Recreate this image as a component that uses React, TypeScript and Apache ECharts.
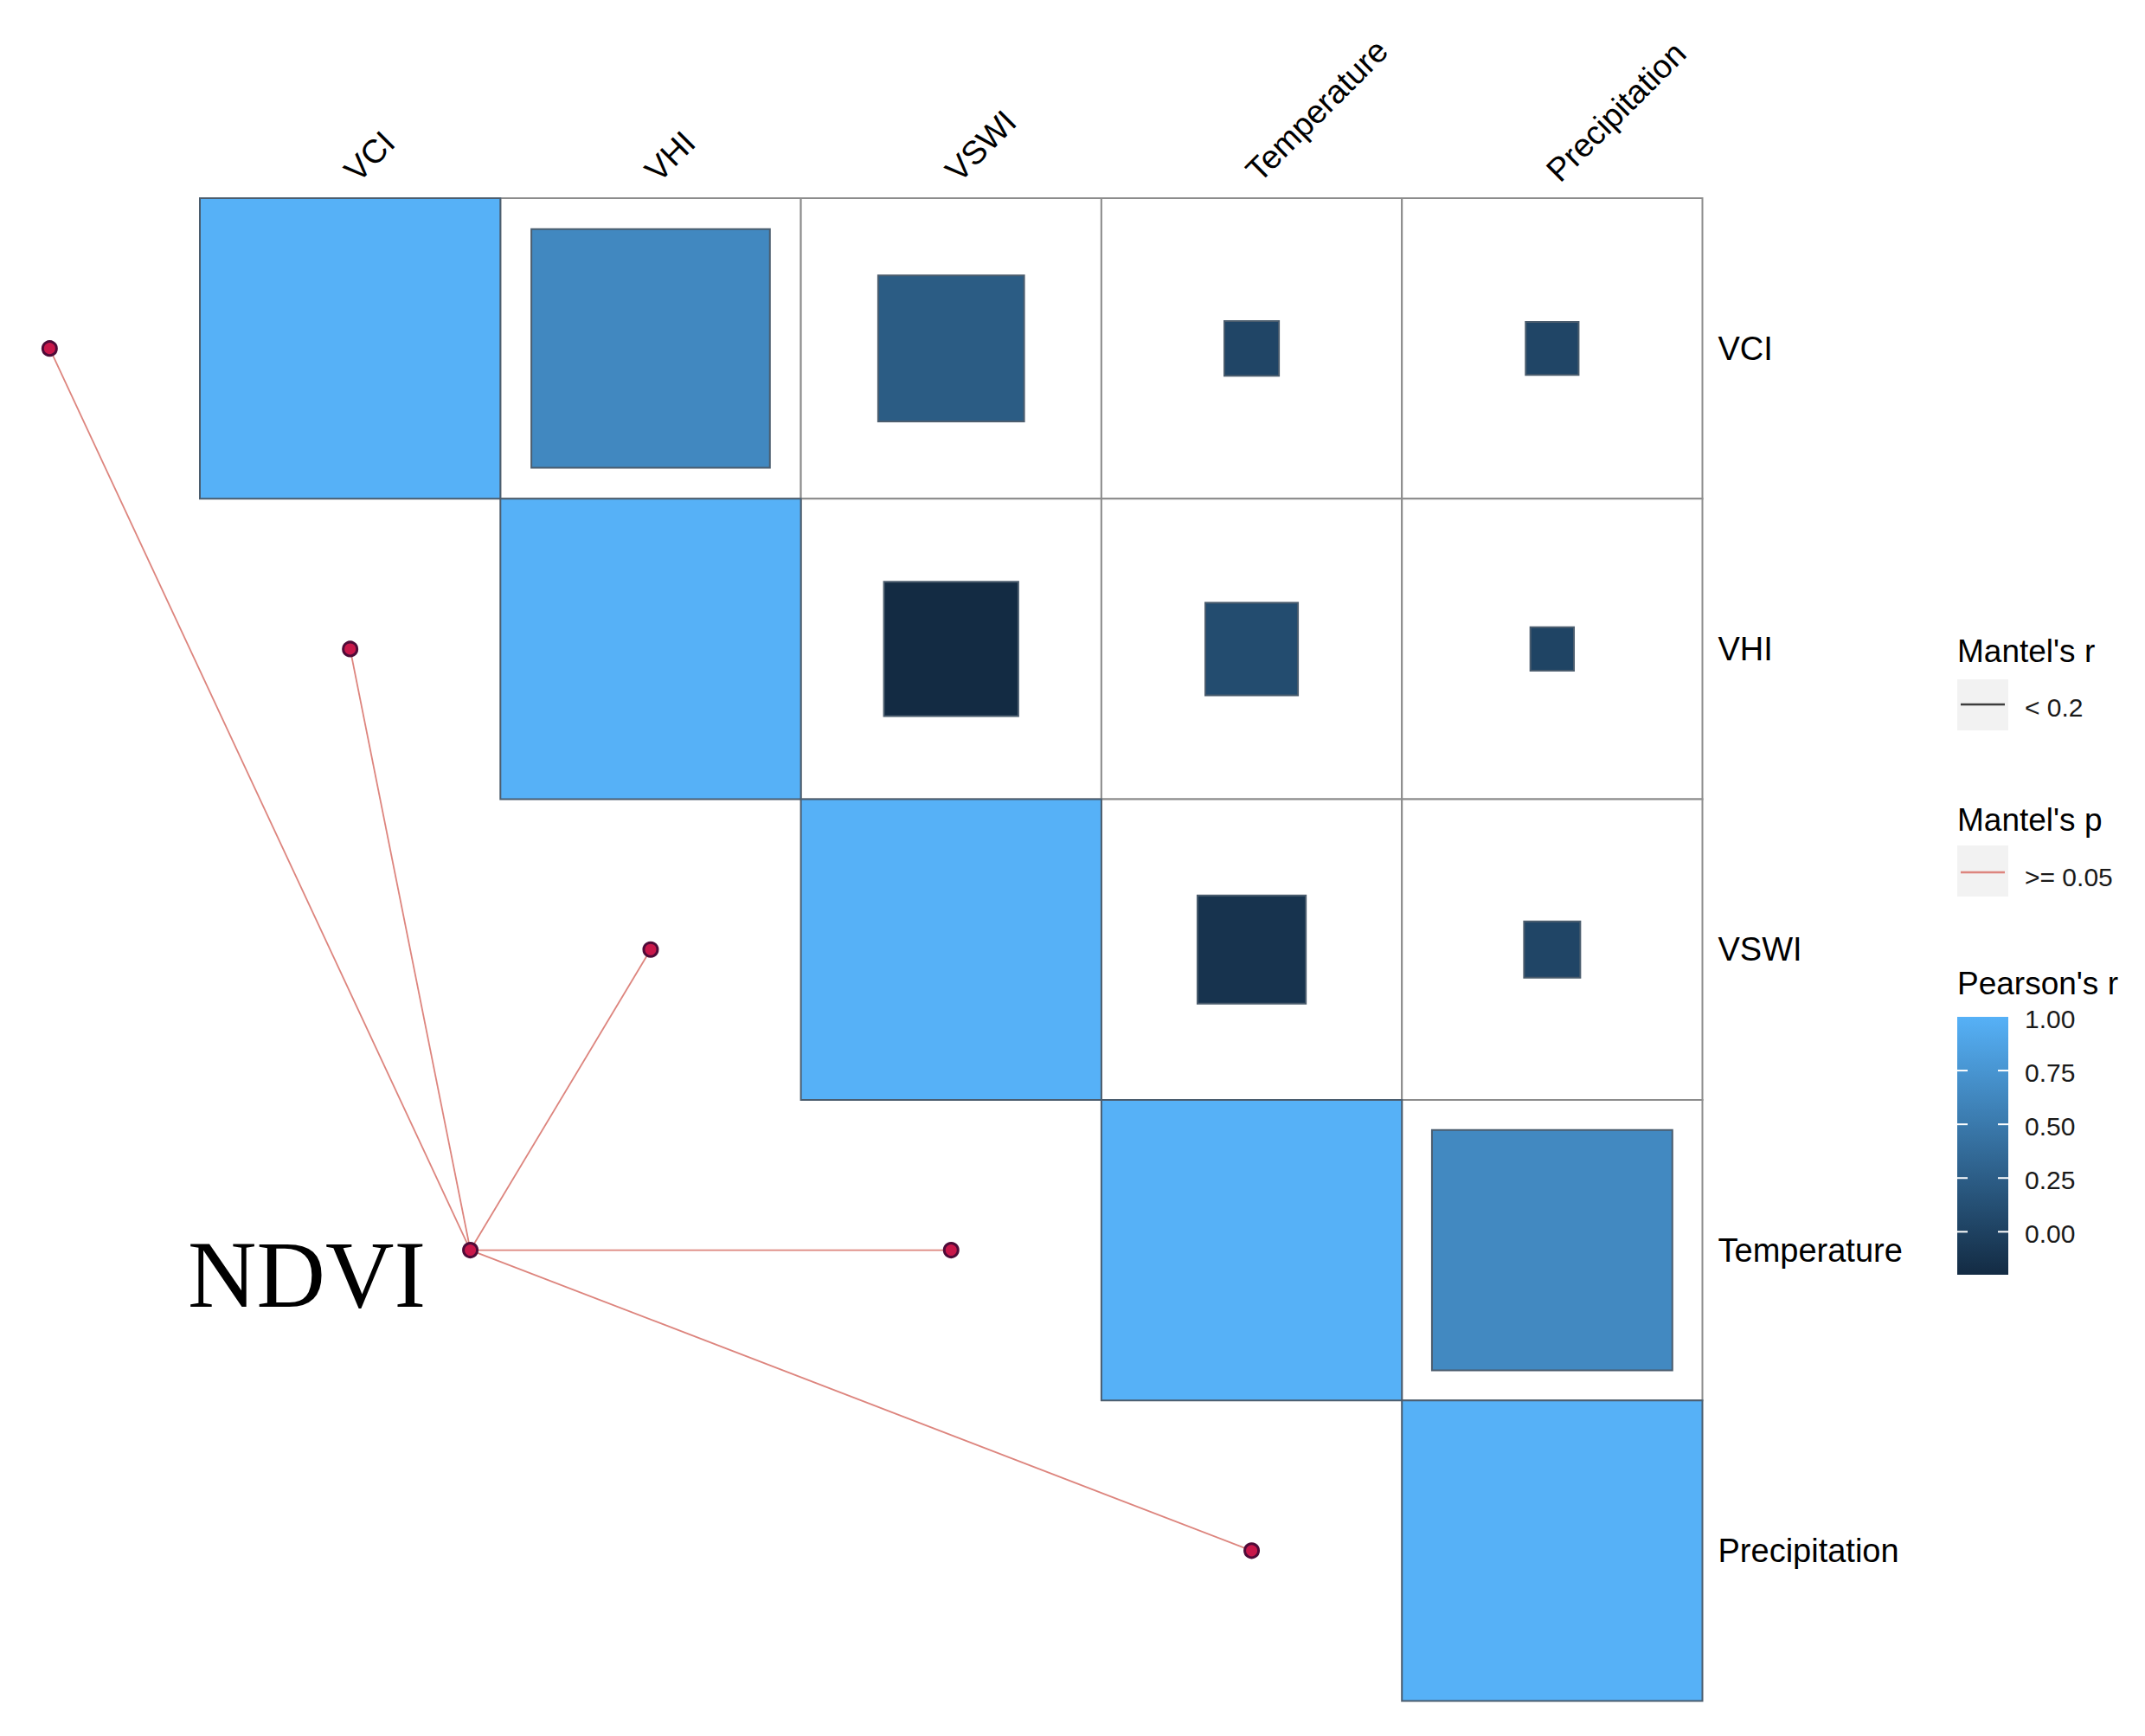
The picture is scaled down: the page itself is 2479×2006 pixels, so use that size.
import React, { useEffect, useRef } from "react";
import * as echarts from "echarts";

// ---- data ----
const vars = ["VCI", "VHI", "VSWI", "Temperature", "Precipitation"];
// Pearson's r, upper triangle (row variable vs column variable)
const rVCI = [1.0, 0.63, 0.236, 0.033, 0.031];
const rVHI = [null, 1.0, -0.2, 0.095, 0.021];
const rVSWI = [null, null, 1.0, -0.13, 0.035];
const rTemperature = [null, null, null, 1.0, 0.64];
const rPrecipitation = [null, null, null, null, 1.0];
const pearsonRows = [rVCI, rVHI, rVSWI, rTemperature, rPrecipitation];

// Mantel test links: NDVI -> each variable
const mantelSource = "NDVI";
const mantelTargets = ["VCI", "VHI", "VSWI", "Temperature", "Precipitation"];
const mantelRClass = ["< 0.2", "< 0.2", "< 0.2", "< 0.2", "< 0.2"];
const mantelPClass = [">= 0.05", ">= 0.05", ">= 0.05", ">= 0.05", ">= 0.05"];
const sourceNode = [0.9, 3.5]; // position of NDVI node in cell units

// colour scale
const colorMin = -0.2;
const colorMax = 1.0;
const colorTicks = [0.0, 0.25, 0.5, 0.75, 1.0];
const lowColor = "#132B43";
const highColor = "#56B1F7";

const pLineColor: Record<string, string> = { ">= 0.05": "#DD857E" };

export default function App() {
  const ref = useRef<HTMLDivElement>(null);
  useEffect(() => {
    if (!ref.current) return;
    const chart = echarts.init(ref.current, null, { renderer: "svg" });

    const cells: number[][] = [];
    pearsonRows.forEach((row, i) => {
      row.forEach((v, j) => {
        if (v !== null && v !== undefined) cells.push([j, i, v as number]);
      });
    });
    const offCells = cells.filter((c) => c[0] !== c[1]);

    const endPoints = mantelTargets.map((t) => {
      const i = vars.indexOf(t);
      return [i - 0.5, i + 0.5];
    });
    const lineData = endPoints.map((e, k) => ({
      value: [sourceNode[0], sourceNode[1], e[0], e[1]],
      p: mantelPClass[k],
    }));

    const labelFmt = (v: number) => {
      const k = Math.round(v * 2);
      if (k % 2 === 1) return vars[(k - 1) / 2] || "";
      return "";
    };

    const font = "Liberation Sans, Arial, sans-serif";

    // legend geometry
    const lgX = 2262;
    const lgW = 59;
    const cbTop = 1175;
    const cbBot = 1473;
    const cbY = (v: number) => cbTop + ((colorMax - v) / (colorMax - colorMin)) * (cbBot - cbTop);

    const graphic: any[] = [
      { type: "text", x: lgX, y: 752, style: { text: "Mantel's r", font: `37px ${font}`, fill: "#000", verticalAlign: "middle" } },
      { type: "rect", shape: { x: lgX, y: 785, width: lgW, height: 59 }, style: { fill: "#F2F2F2" } },
      { type: "line", shape: { x1: lgX + 4, y1: 814, x2: lgX + 55, y2: 814 }, style: { stroke: "#3D3D3D", lineWidth: 2.5 } },
      { type: "text", x: 2340, y: 817, style: { text: mantelRClass[0], font: `30px ${font}`, fill: "#1A1A1A", verticalAlign: "middle" } },
      { type: "text", x: lgX, y: 947, style: { text: "Mantel's p", font: `37px ${font}`, fill: "#000", verticalAlign: "middle" } },
      { type: "rect", shape: { x: lgX, y: 977, width: lgW, height: 59 }, style: { fill: "#F2F2F2" } },
      { type: "line", shape: { x1: lgX + 4, y1: 1008, x2: lgX + 55, y2: 1008 }, style: { stroke: pLineColor[mantelPClass[0]], lineWidth: 2.5 } },
      { type: "text", x: 2340, y: 1013, style: { text: mantelPClass[0], font: `30px ${font}`, fill: "#1A1A1A", verticalAlign: "middle" } },
      { type: "text", x: lgX, y: 1136, style: { text: "Pearson's r", font: `37px ${font}`, fill: "#000", verticalAlign: "middle" } },
      {
        type: "rect",
        shape: { x: lgX, y: cbTop, width: lgW, height: cbBot - cbTop },
        style: {
          fill: new echarts.graphic.LinearGradient(0, 0, 0, 1, [
            { offset: 0, color: highColor },
            { offset: 1, color: lowColor },
          ]),
        },
      },
    ];
    colorTicks.forEach((t) => {
      const y = cbY(t);
      if (t < colorMax) {
        graphic.push({ type: "line", shape: { x1: lgX, y1: y, x2: lgX + 12, y2: y }, style: { stroke: "#FFFFFF", lineWidth: 2 } });
        graphic.push({ type: "line", shape: { x1: lgX + lgW - 12, y1: y, x2: lgX + lgW, y2: y }, style: { stroke: "#FFFFFF", lineWidth: 2 } });
      }
      graphic.push({ type: "text", x: 2340, y: y + 2, style: { text: t.toFixed(2), font: `30px ${font}`, fill: "#1A1A1A", verticalAlign: "middle" } });
    });

    const option: any = {
      animation: false,
      backgroundColor: "#FFFFFF",
      grid: { left: 231, top: 229, width: 1736.5, height: 1736.5, containLabel: false },
      xAxis: {
        type: "value",
        position: "top",
        min: 0,
        max: 5,
        interval: 0.5,
        axisLine: { show: false },
        axisTick: { show: false },
        splitLine: { show: false },
        axisLabel: { formatter: labelFmt, rotate: 45, fontSize: 38, color: "#000", fontFamily: font, margin: 26 },
      },
      yAxis: {
        type: "value",
        position: "right",
        inverse: true,
        min: 0,
        max: 5,
        interval: 0.5,
        axisLine: { show: false },
        axisTick: { show: false },
        splitLine: { show: false },
        axisLabel: { formatter: labelFmt, fontSize: 38, color: "#000", fontFamily: font, margin: 18, padding: [10, 0, 0, 0] },
      },
      visualMap: {
        type: "continuous",
        show: false,
        min: colorMin,
        max: colorMax,
        dimension: 2,
        seriesIndex: 1,
        inRange: { color: [lowColor, highColor] },
      },
      graphic,
      series: [
        {
          type: "custom",
          name: "grid",
          z: 1,
          data: offCells,
          renderItem: (params: any, api: any) => {
            const c = api.coord([api.value(0) + 0.5, api.value(1) + 0.5]);
            const s = api.size([1, 1]);
            const w = Math.abs(s[0]);
            const h = Math.abs(s[1]);
            return {
              type: "rect",
              shape: { x: c[0] - w / 2, y: c[1] - h / 2, width: w, height: h },
              style: { fill: "#FFFFFF", stroke: "#8C8C8C", lineWidth: 2 },
            };
          },
        },
        {
          type: "custom",
          name: "Pearson's r",
          z: 2,
          data: cells,
          renderItem: (params: any, api: any) => {
            const c = api.coord([api.value(0) + 0.5, api.value(1) + 0.5]);
            const s = api.size([1, 1]);
            const f = Math.sqrt(Math.abs(api.value(2)));
            const w = Math.abs(s[0]) * f;
            const h = Math.abs(s[1]) * f;
            return {
              type: "rect",
              shape: { x: c[0] - w / 2, y: c[1] - h / 2, width: w, height: h },
              style: { fill: api.visual("color"), stroke: "#4B5D6E", lineWidth: 2 },
            };
          },
        },
        {
          type: "custom",
          name: "Mantel links",
          z: 3,
          data: lineData,
          renderItem: (params: any, api: any) => {
            const a = api.coord([api.value(0), api.value(1)]);
            const b = api.coord([api.value(2), api.value(3)]);
            const item = lineData[params.dataIndex];
            return {
              type: "line",
              shape: { x1: a[0], y1: a[1], x2: b[0], y2: b[1] },
              style: { stroke: pLineColor[item.p], lineWidth: 1.8 },
            };
          },
        },
        {
          type: "scatter",
          name: "nodes",
          z: 4,
          clip: false,
          symbol: "circle",
          symbolSize: 16,
          itemStyle: { color: "#C8174A", borderColor: "#4E0B38", borderWidth: 3, opacity: 1 },
          data: [
            ...endPoints.map((e) => ({ value: e })),
            {
              value: sourceNode,
              label: {
                show: true,
                position: "left",
                formatter: mantelSource,
                fontFamily: "Liberation Serif, Times New Roman, serif",
                fontSize: 110,
                color: "#000",
                distance: 42,
                offset: [0, 28],
              },
            },
          ],
        },
      ],
    };
    chart.setOption(option);
    return () => chart.dispose();
  }, []);
  return (
    <div
      ref={ref}
      style={{ position: "absolute", left: 0, top: 0, width: 2479, height: 2006, background: "#fff" }}
    />
  );
}
